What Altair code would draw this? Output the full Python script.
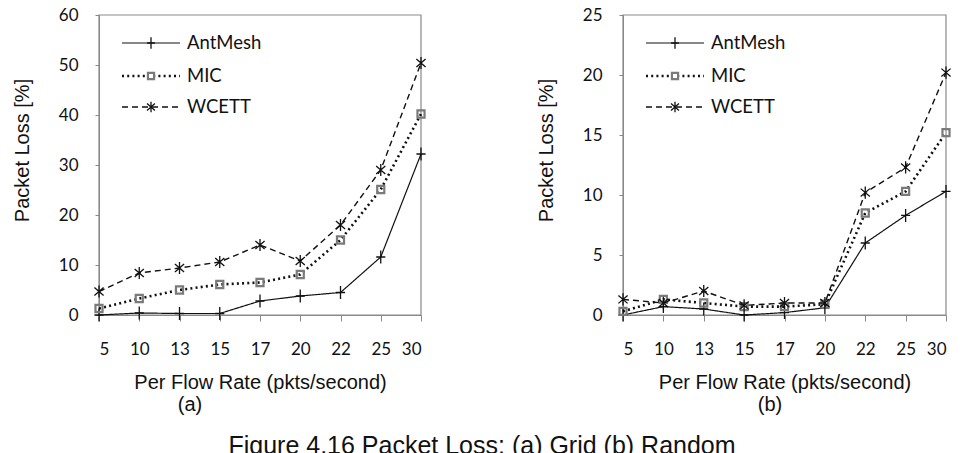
import altair as alt
import pandas as pd

# Per-flow rates (category labels on the x axis)
rates = ["5", "10", "13", "15", "17", "20", "22", "25", "30"]
series_names = ["AntMesh", "MIC", "WCETT"]

# (a) Grid topology: packet loss [%]
grid_antmesh = [0.0, 0.4, 0.3, 0.3, 2.8, 3.8, 4.5, 11.6, 32.2]
grid_mic = [1.3, 3.3, 5.0, 6.1, 6.5, 8.1, 15.0, 25.1, 40.2]
grid_wcett = [4.7, 8.4, 9.4, 10.6, 14.0, 10.8, 18.0, 29.0, 50.4]

# (b) Random topology: packet loss [%]
rand_antmesh = [0.0, 0.7, 0.5, 0.0, 0.2, 0.6, 6.0, 8.3, 10.3]
rand_mic = [0.3, 1.3, 1.0, 0.7, 0.7, 0.9, 8.5, 10.3, 15.2]
rand_wcett = [1.3, 1.0, 2.0, 0.8, 1.0, 1.0, 10.2, 12.3, 20.2]

caption_text = "Figure 4.16 Packet Loss: (a) Grid (b) Random"

# Line / marker styling per series
PLUS = "M0,-1L0,1M-0.7,0L0.7,0"
SQUARE = "M-1,-1L1,-1L1,1L-1,1Z"
STAR = "M0,-1L0,1M-0.75,-0.65L0.75,0.65M-0.75,0.65L0.75,-0.65"
styles = {
    "AntMesh": dict(dash=[1, 0], width=1.2, shape=PLUS, size=170, mstroke="#111", mwidth=1.3),
    "MIC": dict(dash=[2, 3.2], width=2.6, shape=SQUARE, size=50, mstroke="#7a7a7a", mwidth=2.2),
    "WCETT": dict(dash=[6, 4], width=1.4, shape=STAR, size=150, mstroke="#111", mwidth=1.3),
}

TITLE_FONT = "Liberation Sans Narrow, Liberation Sans, Arial"
LABEL_FONT = "Lato, Open Sans, sans-serif"
GRAY = "#898989"
W, H = 961, 453
TOP, BOTTOM = 15, 315  # plot area rows shared by both panels

label_expr = "[" + ",".join(f"'{r}'" for r in rates) + "][datum.value]"
one_row = pd.DataFrame({"t": [""]})


def text_layer(txt, x, y, **kw):
    return alt.Chart(pd.DataFrame({"t": [txt]})).mark_text(color="#111", **kw).encode(
        x=alt.value(x), y=alt.value(y), text="t:N")


def panel(values, ymax, ystep, left, right, tag, tag_x):
    df = pd.DataFrame({
        "idx": list(range(len(rates))) * 3,
        "series": sum([[s] * len(rates) for s in series_names], []),
        "loss": values[0] + values[1] + values[2],
    })
    x = alt.X(
        "idx:Q",
        scale=alt.Scale(domain=[0, len(rates) - 1], range=[left, right], nice=False, zero=False),
        axis=alt.Axis(
            orient="bottom", offset=BOTTOM - H,
            values=list(range(len(rates))), labelExpr=label_expr, grid=False,
            tickSize=6, labelPadding=20, domainColor=GRAY, tickColor=GRAY,
            labelFont=LABEL_FONT, labelFontSize=17, labelColor="#111",
            title="Per Flow Rate (pkts/second)", titleFont=TITLE_FONT,
            titleFontSize=20, titleFontWeight="normal", titleColor="#111",
            titleX=(left + right) / 2, titleY=67, titleAlign="center",
            titleBaseline="middle",
        ),
    )
    y = alt.Y(
        "loss:Q",
        scale=alt.Scale(domain=[0, ymax], range=[BOTTOM, TOP], nice=False),
        axis=alt.Axis(
            orient="left", offset=-left,
            values=list(range(0, ymax + 1, ystep)), grid=False, tickSize=4,
            labelPadding=17, domainColor=GRAY, tickColor=GRAY,
            labelFont=LABEL_FONT, labelFontSize=17, labelColor="#111",
            title="Packet Loss [%]", titleFont=TITLE_FONT, titleFontSize=20,
            titleFontWeight="normal", titleColor="#111", titleAngle=-90,
            titleX=-77, titleY=150, titleAlign="center", titleBaseline="middle",
        ),
    )
    base = alt.Chart(df)
    # plot-area frame
    layers = [alt.Chart(one_row).mark_rect(fillOpacity=0, stroke=GRAY, strokeWidth=1.2).encode(
        x=alt.value(left), x2=alt.value(right), y=alt.value(TOP), y2=alt.value(BOTTOM))]
    legend_rows = {"AntMesh": 43, "MIC": 76, "WCETT": 107}
    for s in series_names:
        st = styles[s]
        sub = base.transform_filter(alt.datum.series == s)
        layers.append(sub.mark_line(color="#111", strokeWidth=st["width"],
                                    strokeDash=st["dash"]).encode(x=x, y=y))
        layers.append(sub.mark_point(shape=st["shape"], size=st["size"], filled=False,
                                     stroke=st["mstroke"], strokeWidth=st["mwidth"],
                                     opacity=1).encode(x=x, y=y))
        # legend entry inside the plot area
        ly = legend_rows[s]
        layers.append(alt.Chart(one_row).mark_rule(color="#111", strokeWidth=st["width"],
                                                   strokeDash=st["dash"]).encode(
            x=alt.value(left + 23), x2=alt.value(left + 81), y=alt.value(ly)))
        layers.append(alt.Chart(one_row).mark_point(shape=st["shape"], size=st["size"] * 0.75,
                                                    filled=True, fill="white",
                                                    stroke=st["mstroke"],
                                                    strokeWidth=st["mwidth"], opacity=1).encode(
            x=alt.value(left + 52), y=alt.value(ly)))
        layers.append(text_layer(s, left + 88, ly, align="left", baseline="middle",
                                 font=LABEL_FONT, fontSize=18.5))
    layers.append(text_layer(tag, tag_x, 405, align="center", baseline="middle",
                             font="Liberation Sans", fontSize=20))
    return alt.layer(*layers)


grid_panel = panel([grid_antmesh, grid_mic, grid_wcett], 60, 10, 99, 421, "(a)", 190)
rand_panel = panel([rand_antmesh, rand_mic, rand_wcett], 25, 5, 623, 946, "(b)", 770)
caption = text_layer(caption_text, 482, 434, align="center", baseline="top",
                     font="Liberation Sans", fontSize=25)

chart = alt.layer(grid_panel, rand_panel, caption).resolve_scale(
    x="independent", y="independent"
).resolve_axis(x="independent", y="independent").properties(
    width=W, height=H,
    autosize=alt.AutoSizeParams(type="none"),
    padding=0,
    background="white",
).configure_view(stroke=None)

chart.save("out.html", embed_options={"renderer": "svg", "actions": False})
